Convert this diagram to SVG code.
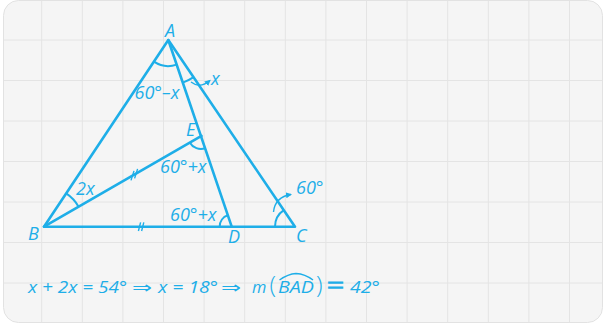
<svg xmlns="http://www.w3.org/2000/svg" width="604" height="327" viewBox="0 0 604 327">
<defs>
<style>
.grid line{stroke:#e4e4e4;stroke-width:1}
.edge{stroke:#1eaee8;stroke-width:2.6;fill:none;stroke-linecap:round;stroke-linejoin:round}
.ang{stroke:#1eaee8;stroke-width:2;fill:none}
.tick{stroke:#1eaee8;stroke-width:1.4;fill:none}
.arr{stroke:#1eaee8;stroke-width:1.4;fill:none}
.lbl{font-family:"Open Sans","Noto Sans",sans-serif;font-style:italic;font-size:18px;fill:#1eaee8}
.eq{font-family:"Open Sans","Noto Sans",sans-serif;font-style:italic;font-size:16.5px;fill:#1eaee8}
.sym{font-family:"DejaVu Sans",sans-serif;font-size:16px;fill:#1eaee8}
.par{font-family:"Open Sans","Noto Sans",sans-serif;font-size:24px;font-weight:300;fill:#1eaee8}
</style>
<marker id="ah" markerUnits="userSpaceOnUse" markerWidth="7" markerHeight="7" refX="5" refY="3" orient="auto">
<path d="M0,0 L6,3 L0,6 z" fill="#1eaee8"/>
</marker>
</defs>
<rect x="3.5" y="0.5" width="599" height="322" rx="15" fill="#f5f5f5" stroke="#e2e2e2"/>
<g class="grid">
<line x1="41.7" y1="1" x2="41.7" y2="322"/>
<line x1="82.3" y1="1" x2="82.3" y2="322"/>
<line x1="122.9" y1="1" x2="122.9" y2="322"/>
<line x1="163.5" y1="1" x2="163.5" y2="322"/>
<line x1="204.1" y1="1" x2="204.1" y2="322"/>
<line x1="244.7" y1="1" x2="244.7" y2="322"/>
<line x1="285.3" y1="1" x2="285.3" y2="322"/>
<line x1="325.9" y1="1" x2="325.9" y2="322"/>
<line x1="366.5" y1="1" x2="366.5" y2="322"/>
<line x1="407.1" y1="1" x2="407.1" y2="322"/>
<line x1="447.7" y1="1" x2="447.7" y2="322"/>
<line x1="488.3" y1="1" x2="488.3" y2="322"/>
<line x1="528.9" y1="1" x2="528.9" y2="322"/>
<line x1="569.5" y1="1" x2="569.5" y2="322"/>
<line x1="4" y1="40" x2="602" y2="40"/>
<line x1="4" y1="80.5" x2="602" y2="80.5"/>
<line x1="4" y1="121" x2="602" y2="121"/>
<line x1="4" y1="161.5" x2="602" y2="161.5"/>
<line x1="4" y1="202" x2="602" y2="202"/>
<line x1="4" y1="242.5" x2="602" y2="242.5"/>
<line x1="4" y1="283" x2="602" y2="283"/>
</g>
<g id="connectors">
<path class="edge" d="M168.3,40 L44,226.7 L295,226.7 Z"/>
<path class="edge" d="M168.3,40 L231.7,226.7"/>
<path class="edge" d="M44,226.7 L201.5,135.8"/>
<path class="ang" d="M153.9,61.7 A26,26 0 0 0 176.7,64.6"/>
<path class="ang" d="M182.8,82.6 A45,45 0 0 0 193.6,77.2"/>
<path class="ang" d="M66.2,193.4 A40,40 0 0 1 78.6,206.7"/>
<path class="ang" d="M205.2,148.3 A13,13 0 0 1 189.7,142.5"/>
<path class="ang" d="M219.7,226.7 A12,12 0 0 1 227.8,215.3"/>
<path class="ang" d="M275,226.7 A20,20 0 0 1 283.8,210.1"/>
<path class="tick" d="M131,180.4 L134,170.9 M134.6,178.4 L137.6,168.9"/>
<path class="tick" d="M138.4,231 L140.6,222.4 M141.6,231 L143.8,222.4"/>
<path class="arr" d="M191,82 Q200,89 210,80.5" marker-end="url(#ah)"/>
<path class="arr" d="M273.5,212 Q275,197 291,194.5" marker-end="url(#ah)"/>
</g>
<g id="node-A"><text class="lbl" x="165" y="37">A</text></g>
<g id="node-B"><text class="lbl" x="28" y="240">B</text></g>
<g id="node-C"><text class="lbl" x="296" y="241.5">C</text></g>
<g id="node-D"><text class="lbl" x="228" y="243">D</text></g>
<g id="node-E"><text class="lbl" x="186" y="135.5">E</text></g>
<g id="angle-labels">
<text class="lbl" x="134.5" y="99">60°–x</text>
<text class="lbl" x="211" y="85">x</text>
<text class="lbl" x="76" y="195">2x</text>
<text class="lbl" x="160" y="173">60°+x</text>
<text class="lbl" x="170" y="221">60°+x</text>
<text class="lbl" x="296" y="194">60°</text>
</g>
<g id="formula">
<text class="eq" x="28" y="293" textLength="99" lengthAdjust="spacingAndGlyphs">x + 2x = 54°</text>
<text class="sym" x="132" y="293" textLength="20" lengthAdjust="spacingAndGlyphs">⇒</text>
<text class="eq" x="158" y="293" textLength="60" lengthAdjust="spacingAndGlyphs">x = 18°</text>
<text class="sym" x="221" y="293" textLength="20" lengthAdjust="spacingAndGlyphs">⇒</text>
<text class="eq" x="252" y="293" font-size="18">m</text>
<text class="par" x="269.5" y="293">(</text>
<text class="eq" x="278" y="293" textLength="36" lengthAdjust="spacingAndGlyphs">BAD</text>
<path class="tick" d="M279.5,280 Q288,274 296,273.5 Q305,274 313,280"/>
<text class="par" x="316" y="293">)</text>
<text class="par" x="327" y="294" textLength="17" lengthAdjust="spacingAndGlyphs" font-size="27" stroke="#1eaee8" stroke-width="1.2">=</text>
<text class="eq" x="350" y="293" font-size="18" textLength="30" lengthAdjust="spacingAndGlyphs">42°</text>
</g>
</svg>
